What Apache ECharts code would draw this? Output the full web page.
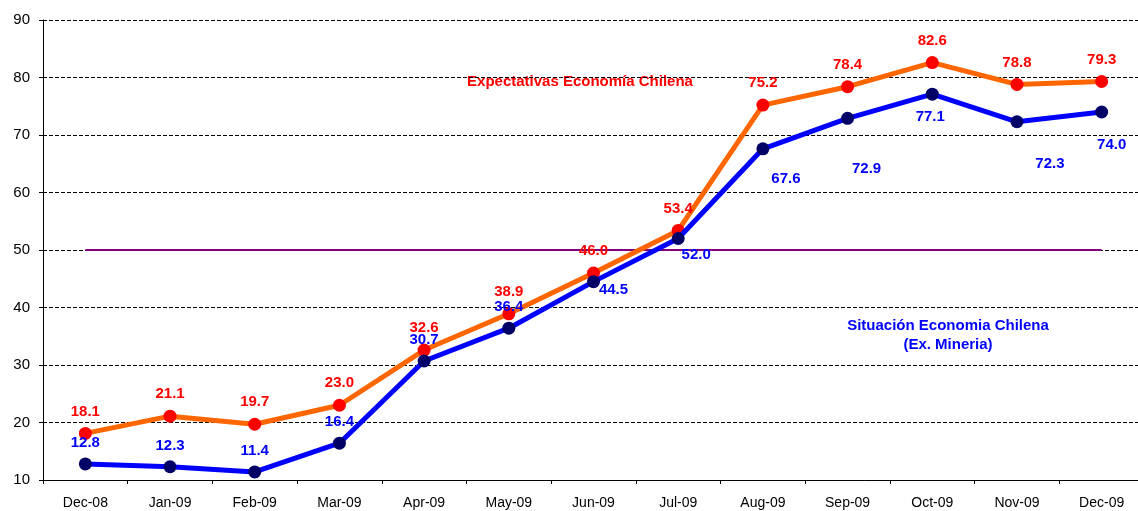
<!DOCTYPE html>
<html>
<head>
<meta charset="utf-8">
<script src="https://cdn.jsdelivr.net/npm/echarts@6/dist/echarts.min.js"></script>
<style>
  html, body { margin: 0; padding: 0; background: #fff; }
  #chart { width: 1138px; height: 511px; }
</style>
</head>
<body>
<div id="chart"></div>
<script>
const months = ["Dec-08", "Jan-09", "Feb-09", "Mar-09", "Apr-09", "May-09", "Jun-09",
                "Jul-09", "Aug-09", "Sep-09", "Oct-09", "Nov-09", "Dec-09"]
const expectativas = [18.1, 21.1, 19.7, 23.0, 32.6, 38.9, 46.0, 53.4, 75.2, 78.4, 82.6, 78.8, 79.3]
const situacion = [12.8, 12.3, 11.4, 16.4, 30.7, 36.4, 44.5, 52.0, 67.6, 72.9, 77.1, 72.3, 74.0]
const threshold = months.map(() => 50)

// label offsets for the blue series (they move around in the original)
const situacionOffsets = [[0, -21], [0, -21], [0, -21], [0, -21], [0, -21], [0, -21],
    [20, 8], [18, 16], [23, 30], [19, 51], [-2, 23], [33, 42], [10, 33]]

const labelFont = { fontFamily: "Liberation Sans, Arial", fontWeight: "bold", fontSize: 15 }

let myChart = echarts.init(document.getElementById("chart"))
myChart.setOption({
    animation: false,
    // el gráfico original está recortado a la derecha
    grid: { left: 43, top: 20, right: -6, height: 460, outerBoundsMode: "none", containLabel: false },
    xAxis: {
        type: "category",
        data: months,
        boundaryGap: true,
        axisLine: { lineStyle: { color: "#000", width: 1 } },
        axisTick: { show: true, length: 4, lineStyle: { color: "#000" } },
        axisLabel: { color: "#000", fontFamily: "Liberation Sans, Arial", fontSize: 14, margin: 16 }
    },
    yAxis: {
        type: "value",
        min: 10,
        max: 90,
        interval: 10,
        axisLine: { show: true, lineStyle: { color: "#000", width: 1 } },
        axisTick: { show: true, length: 4, lineStyle: { color: "#000" } },
        axisLabel: { color: "#000", fontFamily: "Liberation Sans, Arial", fontSize: 15, margin: 13 },
        splitLine: { lineStyle: { color: "#000", type: [4, 2], width: 1 } }
    },
    series: [
        {
            name: "Umbral",
            type: "line",
            data: threshold,
            showSymbol: false,
            lineStyle: { color: "#800080", width: 2 },
            z: 1
        },
        {
            name: "Expectativas Economía Chilena",
            type: "line",
            data: expectativas,
            symbol: "circle",
            symbolSize: 13,
            itemStyle: { color: "#ff0000" },
            lineStyle: { color: "#ff6600", width: 5 },
            label: Object.assign({
                show: true,
                position: "inside",
                offset: [0, -22],
                color: "#ff0000",
                formatter: p => p.value.toFixed(1)
            }, labelFont),
            z: 2
        },
        {
            name: "Situación Economia Chilena (Ex. Mineria)",
            type: "line",
            data: situacion.map((v, i) => ({
                value: v,
                label: { offset: situacionOffsets[i] }
            })),
            symbol: "circle",
            symbolSize: 13,
            itemStyle: { color: "#000066" },
            lineStyle: { color: "#0000ff", width: 5 },
            label: Object.assign({
                show: true,
                position: "inside",
                color: "#0000ff",
                formatter: p => p.value.toFixed(1)
            }, labelFont),
            z: 3
        }
    ],
    graphic: [
        {
            type: "text",
            x: 580,
            y: 74,
            style: Object.assign({
                text: "Expectativas Economía Chilena",
                fill: "#ff0000",
                align: "center"
            }, labelFont)
        },
        {
            type: "text",
            x: 948,
            y: 316,
            style: Object.assign({
                text: "Situación Economia Chilena\n(Ex. Mineria)",
                fill: "#0000ff",
                align: "center",
                lineHeight: 19
            }, labelFont)
        }
    ]
})
</script>
</body>
</html>
